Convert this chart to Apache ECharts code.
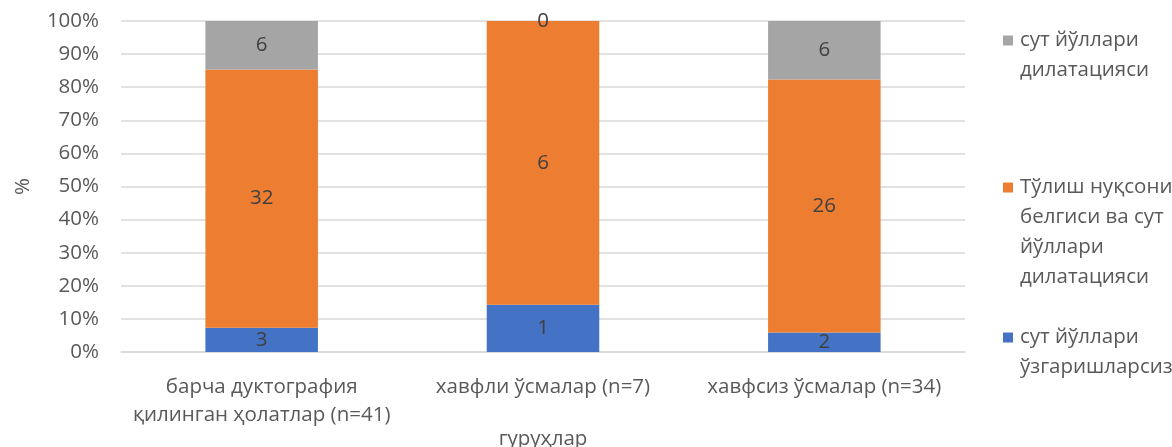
<!DOCTYPE html>
<html>
<head>
<meta charset="utf-8">
<script src="https://cdn.jsdelivr.net/npm/echarts@6/dist/echarts.min.js"></script>
<style>
  html, body { margin: 0; padding: 0; background: #fff; }
  #chart { width: 1172px; height: 447px; }
</style>
</head>
<body>
<div id="chart"></div>
<script>
// Groups (x axis categories)
const categories = [
  'барча дуктография\nқилинган ҳолатлар (n=41)',
  'хавфли ўсмалар (n=7)',
  'хавфсиз ўсмалар (n=34)'
];

// Counts per group for each finding
const seriesNames = [
  'сут йўллари ўзгаришларсиз',
  'Тўлиш нуқсони белгиси ва сут йўллари дилатацияси',
  'сут йўллари дилатацияси'
];
const noChange = [3, 1, 2];
const defectDilation = [32, 6, 26];
const dilation = [6, 0, 6];

// Wrapped legend text, line by line
const legendLines = [
  ['сут йўллари', 'ўзгаришларсиз'],
  ['Тўлиш нуқсони', 'белгиси ва сут', 'йўллари', 'дилатацияси'],
  ['сут йўллари', 'дилатацияси']
];

const colors = ['#4472C4', '#ED7D31', '#A5A5A5'];
const counts = [noChange, defectDilation, dilation];
const totals = categories.map((_, i) => counts.reduce((s, arr) => s + arr[i], 0));

const font = 'Open Sans';
const fontSize = 20.5;
const textGrey = '#595959';

const series = counts.map((arr, k) => ({
  name: seriesNames[k],
  type: 'bar',
  stack: 'all',
  barWidth: '40%',
  itemStyle: { color: colors[k] },
  label: {
    show: true,
    position: 'inside',
    color: '#404040',
    fontFamily: font,
    fontSize: fontSize,
    formatter: p => String(arr[p.dataIndex])
  },
  data: arr.map((v, i) => v / totals[i] * 100)
}));

// One legend block per series, stacked in the right margin
const legendTops = [25, 172, 322];
const legends = [2, 1, 0].map((k, j) => ({
  orient: 'vertical',
  left: 993,
  top: legendTops[j],
  data: [seriesNames[k]],
  selectedMode: false,
  itemWidth: 0,
  itemHeight: 10,
  itemGap: 0,
  formatter: () => legendLines[k]
    .map((line, n) => (n === 0 ? '{sq|}{t|' + line + '}' : '{in|}{t|' + line + '}'))
    .join('\n'),
  textStyle: {
    padding: 0,
    rich: {
      sq: { width: 10, height: 10, backgroundColor: colors[k] },
      in: { width: 10 },
      t: { fontFamily: font, fontSize: fontSize, color: textGrey, lineHeight: 30, padding: [0, 0, 0, 7] }
    }
  }
}));

const chart = echarts.init(document.getElementById('chart'), null, { renderer: 'canvas' });
chart.setOption({
  animation: false,
  color: colors,
  grid: { left: 121, right: 207, top: 21, bottom: 95, outerBoundsMode: 'none', containLabel: false },
  legend: legends,
  xAxis: {
    type: 'category',
    data: categories,
    name: 'гуруҳлар',
    nameLocation: 'middle',
    nameGap: 77,
    nameMoveOverlap: false,
    nameTextStyle: { fontFamily: font, fontSize: fontSize, color: textGrey },
    axisTick: { show: false },
    axisLine: { lineStyle: { color: '#d9d9d9', width: 1.5 } },
    axisLabel: {
      fontFamily: font, fontSize: fontSize, color: textGrey,
      lineHeight: 28, margin: 21, interval: 0
    }
  },
  yAxis: {
    type: 'value',
    min: 0,
    max: 100,
    interval: 10,
    name: '%',
    nameLocation: 'middle',
    nameGap: 87,
    nameRotate: 90,
    nameMoveOverlap: false,
    nameTextStyle: { fontFamily: font, fontSize: fontSize, color: textGrey },
    axisLabel: {
      formatter: '{value}%',
      fontFamily: font, fontSize: fontSize, color: textGrey, margin: 22
    },
    splitLine: { lineStyle: { color: '#d9d9d9', width: 1.5 } },
    axisLine: { show: false },
    axisTick: { show: false }
  },
  series: series
});
</script>
</body>
</html>
